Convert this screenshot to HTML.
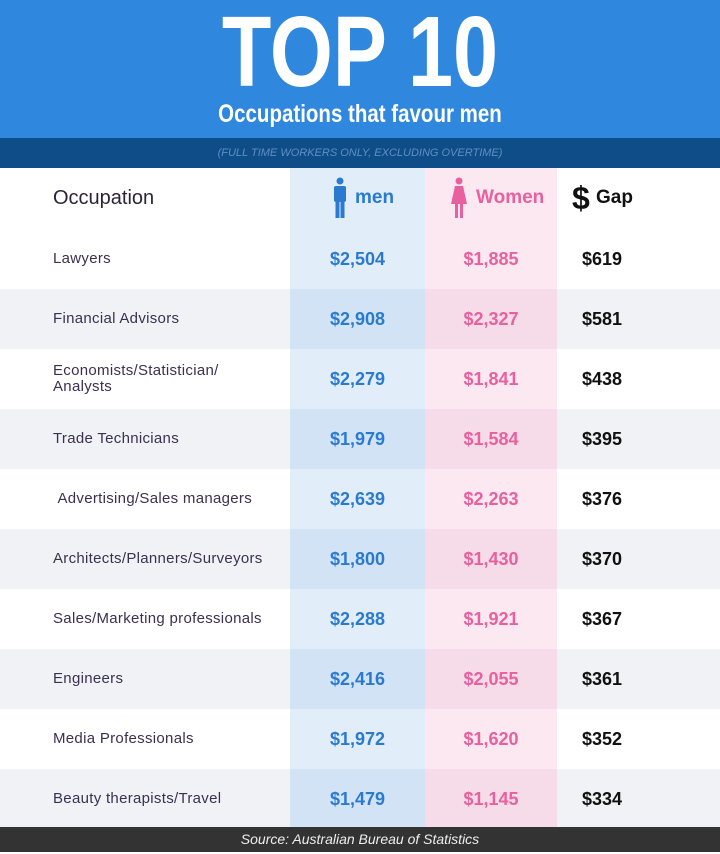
<!DOCTYPE html>
<html><head><meta charset="utf-8"><style>
*{margin:0;padding:0;box-sizing:border-box}
body{width:720px;height:854px;background:#fff;font-family:"Liberation Sans",sans-serif;position:relative;overflow:hidden}
.hdr{position:absolute;left:0;top:0;width:720px;height:138px;background:#2f87de}
.title{position:absolute;left:0;width:720px;top:2px;text-align:center;color:#fff;font-weight:bold;font-size:100px;line-height:100px;transform:scaleX(0.81)}
.sub{position:absolute;left:0;width:720px;top:99px;text-align:center;color:#fff;font-weight:bold;font-size:25px;line-height:30px;transform:scaleX(0.82)}
.band{position:absolute;left:0;top:138px;width:720px;height:30px;background:#0f4d88;color:#5f8fc4;font-style:italic;font-size:11px;line-height:30px;text-align:center}
.colm{position:absolute;left:290px;top:168px;width:135px;height:659px;background:#e1edf9}
.colw{position:absolute;left:425px;top:168px;width:132px;height:659px;background:#fbe8f0}
.row{position:absolute;left:0;width:720px;height:60px}
.alt{background:#f1f2f6}
.alt .m{background:#d2e3f6}.alt .w{background:#f6dce8}
.cell{position:absolute;top:0;height:60px;line-height:60px;font-size:18px;font-weight:bold}
.occ{left:53px;font-weight:normal;font-size:15px;color:#3a3150;line-height:16px;display:flex;align-items:center;height:60px;letter-spacing:0.3px}
.m{left:290px;width:135px;text-align:center;color:#2a7bd0}
.w{left:425px;width:132px;text-align:center;color:#e8609e}
.g{left:582px;color:#111}
.foot{position:absolute;left:0;top:827px;width:720px;height:25px;background:#333;color:#eee;font-style:italic;font-size:14px;line-height:25px;text-align:center}
</style></head><body>
<div class="hdr">
<div class="title">TOP 10</div>
<div class="sub">Occupations that favour men</div>
</div>
<div class="band">(FULL TIME WORKERS ONLY, EXCLUDING OVERTIME)</div>
<div class="colm"></div>
<div class="colw"></div>
<div class="row" style="top:168px;height:62px">
<div class="cell" style="left:53px;font-weight:normal;font-size:20px;color:#2a2438;line-height:60px">Occupation</div>
<svg style="position:absolute;left:333px;top:9px" width="14" height="42"><circle cx="7" cy="4" r="3.5" fill="#2a7bd0"/><rect x="1" y="9" width="12" height="16" rx="2" fill="#2a7bd0"/><rect x="2.5" y="22" width="4" height="19" fill="#2a7bd0"/><rect x="7.5" y="22" width="4" height="19" fill="#2a7bd0"/></svg>
<div class="cell" style="left:355px;color:#2a7bd0;font-size:19px;line-height:60px">men</div>
<svg style="position:absolute;left:450px;top:9px" width="18" height="42"><circle cx="9" cy="4" r="3.5" fill="#e8609e"/><path d="M5 9 H13 L17 27 H1 Z" fill="#e8609e"/><rect x="5" y="26" width="3" height="15" fill="#e8609e"/><rect x="10" y="26" width="3" height="15" fill="#e8609e"/></svg>
<div class="cell" style="left:476px;color:#e8609e;font-size:19px;line-height:60px">Women</div>
<div class="cell" style="left:572px;color:#111;font-size:32px;line-height:60px">$</div>
<div class="cell" style="left:596px;color:#111;font-size:19px;line-height:60px">Gap</div>
</div>
<div id="rows"></div>
<div class="foot">Source: Australian Bureau of Statistics</div>
<script>
const occupations=["Lawyers","Financial Advisors","Economists/Statistician/<br>Analysts","Trade Technicians","&nbsp;Advertising/Sales managers","Architects/Planners/Surveyors","Sales/Marketing professionals","Engineers","Media Professionals","Beauty therapists/Travel"];
const menPay=[2504,2908,2279,1979,2639,1800,2288,2416,1972,1479];
const womenPay=[1885,2327,1841,1584,2263,1430,1921,2055,1620,1145];
const fmt=v=>"$"+v.toLocaleString("en-US");
const host=document.getElementById("rows");
occupations.forEach((o,i)=>{
  const r=document.createElement("div");
  r.className="row"+(i%2?" alt":"");
  r.style.top=(229+i*60)+"px";
  
  
  const c1=document.createElement("div");c1.className="cell occ";c1.innerHTML="<span>"+o+"</span>";
  
  
  const c2=document.createElement("div");c2.className="cell m";c2.textContent=fmt(menPay[i]);
  
  
  const c3=document.createElement("div");c3.className="cell w";c3.textContent=fmt(womenPay[i]);
  
  
  const c4=document.createElement("div");c4.className="cell g";c4.textContent=fmt(menPay[i]-womenPay[i]);
  
  
  r.append(c1,c2,c3,c4);host.appendChild(r);
});
</script>
</body></html>
